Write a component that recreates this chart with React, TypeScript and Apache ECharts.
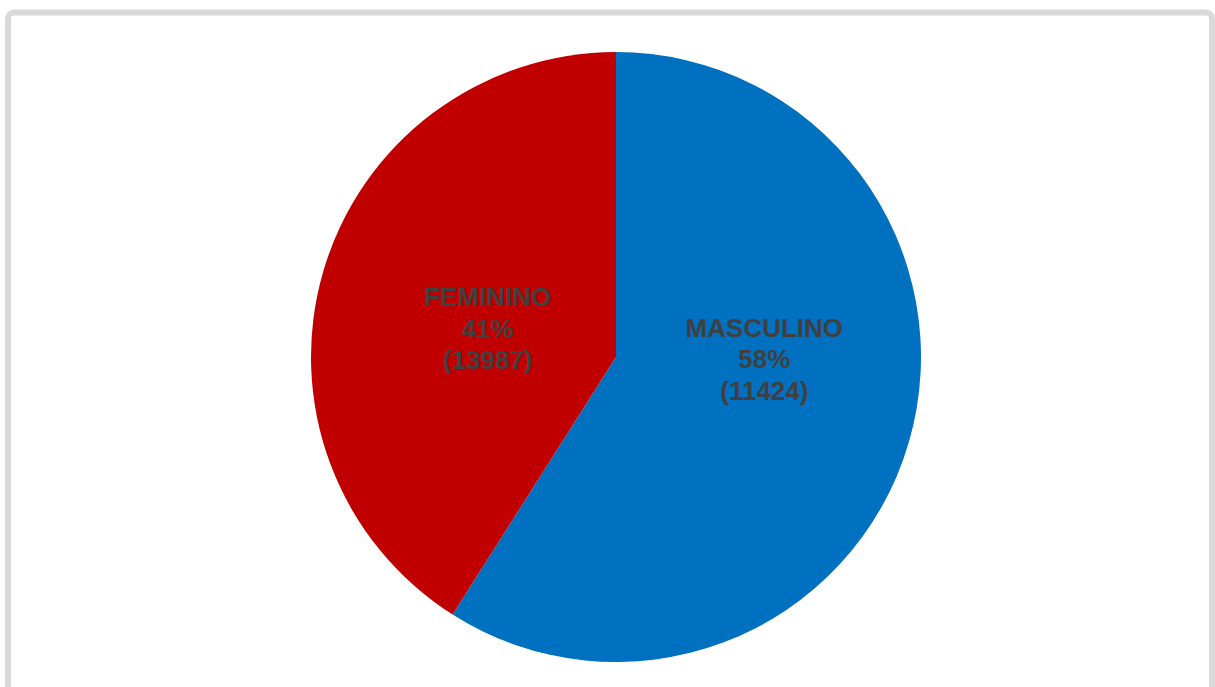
import React, { useEffect, useRef } from "react";
import * as echarts from "echarts";

const categories = ["MASCULINO", "FEMININO"];
const shares = [59, 41];
const percentLabels = ["58%", "41%"];
const counts = [11424, 13987];
const colors = ["#0070C0", "#C00000"];
const labelOffsets = [
  [-1, -41],
  [21, 15],
];

export default function App() {
  const ref = useRef<HTMLDivElement>(null);
  useEffect(() => {
    document.body.style.margin = "0";
    const chart = echarts.init(ref.current!, null, { renderer: "svg" });
    chart.setOption({
      animation: false,
      backgroundColor: "#ffffff",
      graphic: [
        {
          type: "rect",
          shape: { x: 8, y: 12.5, width: 1204, height: 720, r: 6 },
          style: { fill: "none", stroke: "#D9D9D9", lineWidth: 6 },
          silent: true,
        },
      ],
      series: [
        {
          type: "pie",
          center: [616, 357],
          radius: 305,
          startAngle: 90,
          clockwise: true,
          silent: true,
          label: {
            show: true,
            position: "inside",
            fontFamily: "Liberation Sans, Arial, sans-serif",
            fontWeight: "bold",
            fontSize: 26,
            lineHeight: 31.5,
            color: "#404040",
            align: "center",
            formatter: (p: any) =>
              `${categories[p.dataIndex]}\n${percentLabels[p.dataIndex]}\n(${counts[p.dataIndex]})`,
          },
          labelLayout: (p: any) => ({
            dx: labelOffsets[p.dataIndex][0],
            dy: labelOffsets[p.dataIndex][1],
          }),
          labelLine: { show: false },
          itemStyle: { borderWidth: 0 },
          data: categories.map((c, i) => ({
            name: c,
            value: shares[i],
            itemStyle: { color: colors[i] },
          })),
        },
      ],
    });
    return () => chart.dispose();
  }, []);
  return (
    <div
      ref={ref}
      style={{ position: "absolute", left: 0, top: 0, width: 1215, height: 687 }}
    />
  );
}
